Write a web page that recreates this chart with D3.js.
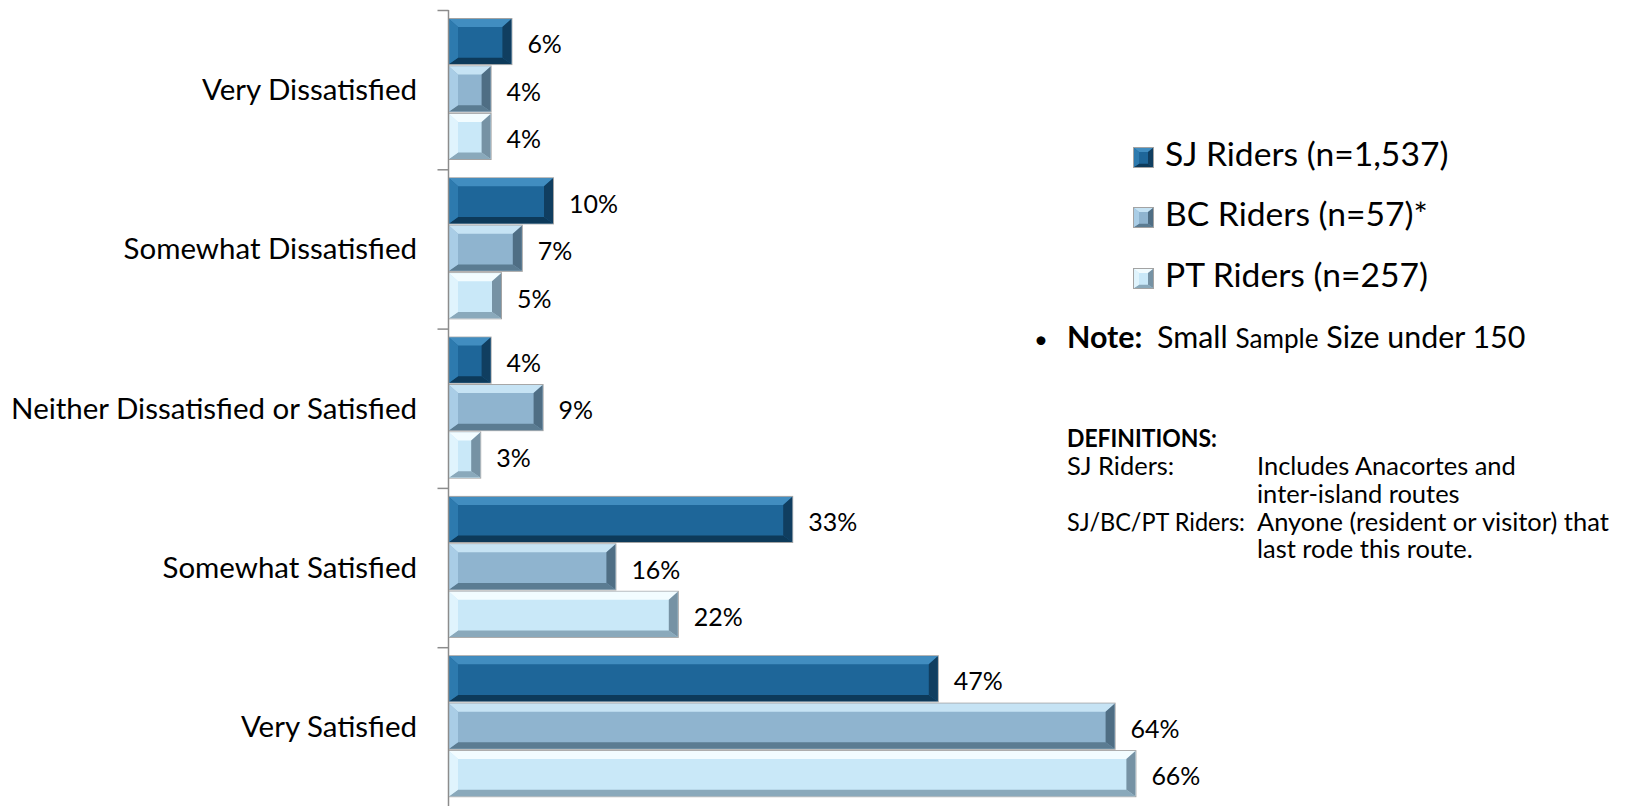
<!DOCTYPE html>
<html><head><meta charset="utf-8">
<script src="https://cdn.jsdelivr.net/npm/d3@7"></script>
<style>
body{margin:0;background:#fff}
svg{display:block}
text{font-family:Lato,"Open Sans",sans-serif;fill:#000}
</style>
</head><body>
<svg id="c" width="1625" height="806"></svg>
<script>
// ---- data ----
const categories = ["Very Dissatisfied","Somewhat Dissatisfied","Neither Dissatisfied or Satisfied","Somewhat Satisfied","Very Satisfied"];
const seriesNames = ["SJ Riders (n=1,537)","BC Riders (n=57)*","PT Riders (n=257)"];
const sjValues = [6,10,4,33,47];
const bcValues = [4,7,9,16,64];
const ptValues = [4,5,3,22,66];
const noteBold = "Note:";
const noteText = ["Small ", "Sample", " Size under 150"];
const defTitle = "DEFINITIONS:";
const defTerms = ["SJ Riders:", "", "SJ/BC/PT Riders:", ""];
const defLines = ["Includes Anacortes and", "inter-island routes", "Anyone (resident or visitor) that", "last rode this route."];

// ---- styles ----
const palettes = [
  {main:"#1e6699", top:"#418dc0", left:"#2d7aae", bottom:"#0d3a5a", right:"#103e60"},
  {main:"#8fb4cf", top:"#c6e3f4", left:"#a9cde6", bottom:"#5b7c92", right:"#4f6e84"},
  {main:"#c9e8f8", top:"#f2fcff", left:"#e0f4fd", bottom:"#8aa9bb", right:"#7692a4"}
];

const svg = d3.select("#c");
svg.append("rect").attr("width",1625).attr("height",806).attr("fill","#fff");

const seriesValues = [sjValues, bcValues, ptValues];
const data = categories.map((c,i)=>({cat:c, vals:seriesValues.map((s,k)=>({k, v:s[i]}))}));

const x = d3.scaleLinear().domain([0,100]).range([449, 449+1040]);
const y = d3.scaleBand().domain(categories).range([10, 806.5]).padding(0);
const ys = d3.scaleBand().domain([0,1,2]).range([9, 149]).paddingInner(0.05);

function bevel(g, x0, y0, w, h, p, b) {
  const bt = Math.min(b, h/2), bb = Math.min(b*0.8, h/2), bx = Math.min(b+1, w/2);
  g.append("rect").attr("x",x0-0.5).attr("y",y0-0.5).attr("width",w+1).attr("height",h+1)
    .attr("fill","none").attr("stroke","#a3a3a3").attr("stroke-width",1);
  g.append("rect").attr("x",x0).attr("y",y0).attr("width",w).attr("height",h).attr("fill",p.main);
  const poly = (pts, fill) => g.append("polygon").attr("points", pts.map(q=>q.join(",")).join(" ")).attr("fill", fill);
  poly([[x0,y0],[x0+w,y0],[x0+w-bx,y0+bt],[x0+bx,y0+bt]], p.top);
  poly([[x0,y0+h],[x0+w,y0+h],[x0+w-bx,y0+h-bb],[x0+bx,y0+h-bb]], p.bottom);
  poly([[x0,y0],[x0+bx,y0+bt],[x0+bx,y0+h-bb],[x0,y0+h]], p.left);
  poly([[x0+w,y0],[x0+w-bx,y0+bt],[x0+w-bx,y0+h-bb],[x0+w,y0+h]], p.right);
}

function fitSize(sel, target) {
  const node = sel.node();
  const w = node.getComputedTextLength();
  const fs = parseFloat(sel.attr("font-size"));
  return fs * target / w;
}
function squeeze(sel, maxW) {
  const w = sel.node().getComputedTextLength();
  if (w > maxW) sel.attr("textLength", maxW).attr("lengthAdjust","spacingAndGlyphs");
}

// ---- bars ----
const gBars = svg.append("g");
data.forEach(d => {
  d.vals.forEach(s => {
    const g = gBars.append("g");
    const y0 = y(d.cat) + ys(s.k);
    bevel(g, x(0), y0, x(s.v)-x(0), ys.bandwidth(), palettes[s.k], 8);
  });
});

// ---- value labels ----
const probe = svg.append("text").attr("font-size",26).text("66%");
const valSize = fitSize(probe, 49);
probe.remove();
data.forEach(d => {
  d.vals.forEach(s => {
    svg.append("text")
      .attr("x", x(s.v) + 16)
      .attr("y", y(d.cat) + ys(s.k) + ys.bandwidth()/2 + 3)
      .attr("dy","0.35em")
      .attr("font-size", valSize)
      .text(s.v + "%");
  });
});

// ---- axis ----
const yB = d3.scaleLinear().domain([0,5]).range([10, 806.5]);
const axis = svg.append("g").attr("transform","translate(448.5,0)")
  .call(d3.axisLeft(yB).tickValues([0,1,2,3,4,5]).tickSize(11).tickSizeOuter(0).tickFormat(""));
axis.selectAll("path,line").attr("stroke","#8c8c8c").attr("stroke-width",1.5);
axis.select(".domain").attr("d","M0,10V806.5");

// ---- category labels ----
const probe2 = svg.append("text").attr("font-size",28).text(categories[2]);
const catSize = fitSize(probe2, 406);
probe2.remove();
svg.append("g").selectAll("text").data(categories).join("text")
  .attr("x", 417)
  .attr("y", d => y(d) + y.bandwidth()/2)
  .attr("dy","0.35em")
  .attr("text-anchor","end")
  .attr("font-size", catSize)
  .text(d => d);

// ---- legend ----
const legBase = [166, 226, 287];
const probe3 = svg.append("text").attr("font-size",30).text(seriesNames[2]);
const legSize = fitSize(probe3, 263);
probe3.remove();
seriesNames.forEach((n,k) => {
  const g = svg.append("g");
  bevel(g, 1134, legBase[k]-18, 19, 19, palettes[k], 4);
  svg.append("text").attr("x",1165).attr("y",legBase[k]).attr("font-size",legSize).text(n);
});

// ---- note ----
svg.append("text").attr("x",1041).attr("y",348).attr("text-anchor","middle").attr("font-size",24).text("•");
const note = svg.append("text").attr("x",1067).attr("y",348).attr("font-size",24);
note.append("tspan").attr("font-weight","bold").text(noteBold + "\u00a0\u00a0");
note.append("tspan").text(noteText[0]);
note.append("tspan").attr("font-size",20.5).text(noteText[1]);
note.append("tspan").text(noteText[2]);
const ns = fitSize(note, 458);
note.attr("font-size", ns);
note.selectAll("tspan").filter((d,i)=>i===2).attr("font-size", ns*0.86);

// ---- definitions ----
const probe4 = svg.append("text").attr("font-size",20).text(defLines[2]);
const defSize = fitSize(probe4, 352);
probe4.remove();
const title = svg.append("text").attr("x",1067).attr("y",447).attr("font-size",defSize).attr("font-weight","bold").text(defTitle);
squeeze(title, 150);
const defBase = [475, 503, 531, 558];
defLines.forEach((l,i) => {
  if (defTerms[i]) {
    const t = svg.append("text").attr("x",1067).attr("y",defBase[i]).attr("font-size",defSize).text(defTerms[i]);
    squeeze(t, 178);
  }
  svg.append("text").attr("x",1257).attr("y",defBase[i]).attr("font-size",defSize).text(l);
});
</script>
</body></html>
